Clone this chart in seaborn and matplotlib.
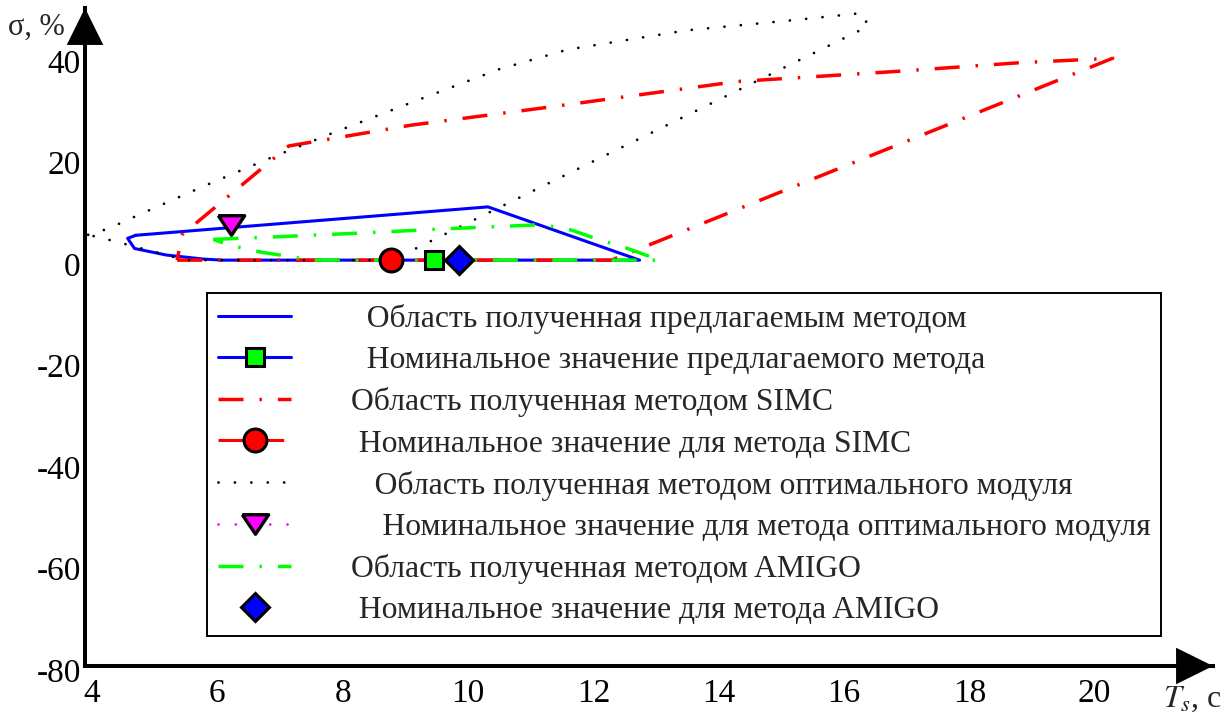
import matplotlib
matplotlib.use("Agg")
import matplotlib.pyplot as plt
import matplotlib.transforms as mtransforms
import seaborn as sns

# --------------------------------------------------------------------------------------------
# Regions of (Ts, sigma). Ts in s, sigma in %.
# --------------------------------------------------------------------------------------------

# Region of the proposed method (blue, solid)
prop_x = [4.81, 4.68, 4.79, 5.30, 5.90, 6.20, 12.85, 10.43, 4.81]
prop_y = [4.9, 4.3, 2.3, 1.0, 0.2, 0.0, 0.0, 10.5, 4.9]

# Region of SIMC (red, dash-dot)
simc_x = [5.47, 12.40, 20.40, 18.90, 16.95, 14.40, 11.37, 9.20, 7.25, 5.55, 5.47]
simc_y = [0.0, 0.0, 39.8, 38.9, 37.2, 35.2, 30.1, 26.6, 22.5, 5.0, 0.0]

# Region of the optimal modulus method (black, dotted)
om_x = [4.05, 4.37, 4.89, 5.90, 6.95, 7.98, 9.30, 10.60, 11.70, 13.60, 15.30, 16.40,
        16.50, 8.90, 5.60, 4.45, 4.05]
om_y = [5.0, 6.2, 9.1, 14.6, 20.1, 25.2, 31.5, 37.6, 41.5, 45.3, 47.3, 48.7,
        46.1, 0.0, 0.0, 3.8, 5.0]

# Region of AMIGO (green, dash-dot)
amigo_x = [6.05, 7.07, 8.67, 9.62, 10.55, 11.30, 11.77, 12.14, 12.66, 13.17, 7.60, 7.23, 6.84, 6.29, 6.05]
amigo_y = [4.1, 4.6, 5.5, 6.1, 6.6, 7.0, 5.9, 4.3, 2.3, 0.0, 0.0, 0.8, 1.5, 3.0, 4.1]

# Nominal values
nom_prop = (9.57, 0.0)
nom_simc = (8.89, 0.0)
nom_om = (6.33, 6.9)
nom_amigo = (9.97, 0.0)

labels = [
    "  Область полученная предлагаемым методом",
    "  Номинальное значение предлагаемого метода",
    "Область полученная методом SIMC",
    " Номинальное значение для метода SIMC",
    "   Область полученная методом оптимального модуля",
    "    Номинальное значение для метода оптимального модуля",
    "Область полученная методом AMIGO",
    " Номинальное значение для метода AMIGO",
]

sns.set_theme(style="white")
plt.rcParams['font.family'] = ['Liberation Serif', 'DejaVu Serif']
plt.rcParams['mathtext.fontset'] = 'stix'
plt.rcParams['axes.unicode_minus'] = False

W, H = 1228, 715
fig = plt.figure(figsize=(W / 100, H / 100), dpi=100)
ax = fig.add_axes([85 / W, 49 / H, (1213 - 85) / W, (666 - 8) / H])

handles = []

sns.lineplot(x=prop_x, y=prop_y, sort=False, estimator=None, color='#0000ff', lw=2.2, ax=ax)
handles.append(ax.lines[-1])
ax.plot([nom_prop[0]], [nom_prop[1]], color='#0000ff', lw=2.2, marker='s', ms=13.5,
        mfc='#00ff00', mec='black', mew=2.2, zorder=5)
handles.append(ax.lines[-1])

sns.lineplot(x=simc_x, y=simc_y, sort=False, estimator=None, color='#ff0000', lw=2.5,
             linestyle=(0, (7.2, 4.6, 0.7, 4.6)), ax=ax)
handles.append(ax.lines[-1])
ax.plot([nom_simc[0]], [nom_simc[1]], color='#ff0000', lw=2.2, linestyle=(0, (8.5, 4.5)),
        marker='o', ms=16.5, mfc='#ff0000', mec='black', mew=2.2, zorder=5)
handles.append(ax.lines[-1])

sns.lineplot(x=om_x, y=om_y, sort=False, estimator=None, color='black', lw=2.0,
             linestyle=(0, (0.01, 5.9)), dash_capstyle='round', ax=ax)
handles.append(ax.lines[-1])
tri = [(-1.35, 1), (1.35, 1), (0, -1), (-1.35, 1)]
ax.plot([nom_om[0]], [nom_om[1]], color='#ff00ff', lw=2.0, linestyle=(0, (0.01, 6.2)),
        dash_capstyle='round', marker=tri, ms=19, mfc='#ff00ff', mec='black', mew=2.4, zorder=5)
handles.append(ax.lines[-1])

sns.lineplot(x=amigo_x, y=amigo_y, sort=False, estimator=None, color='#00ff00', lw=2.5,
             linestyle=(0, (7.2, 4.6, 0.7, 4.6)), ax=ax)
handles.append(ax.lines[-1])
ax.plot([nom_amigo[0]], [nom_amigo[1]], linestyle='none', marker='D', ms=14,
        mfc='#0000ff', mec='black', mew=2.2, zorder=5)
handles.append(ax.lines[-1])

# axes look like a hand drawn Mathcad graph: two thick lines with arrows
ax.set_xlim(4, 22)
ax.set_ylim(-80, 49.7)
ax.set_xticks([4, 6, 8, 10, 12, 14, 16, 18, 20])
ax.set_yticks([-80, -60, -40, -20, 0, 20, 40])
ax.set_xlabel('')
ax.set_ylabel('')
for s in ['top', 'right']:
    ax.spines[s].set_visible(False)
for s in ['left', 'bottom']:
    ax.spines[s].set_linewidth(2.9)
    ax.spines[s].set_color('black')
ax.tick_params(axis='x', direction='in', length=8.5, width=1.1, labelsize=24, pad=9, colors='black')
ax.tick_params(axis='y', direction='in', length=7, width=1.1, labelsize=24, pad=3, colors='black')
dx = mtransforms.ScaledTranslation(7 / 100, 0, fig.dpi_scale_trans)
for t in ax.get_xticklabels():
    t.set_transform(t.get_transform() + dx)
dy = mtransforms.ScaledTranslation(0, -4 / 100, fig.dpi_scale_trans)
for t in ax.get_yticklabels():
    t.set_transform(t.get_transform() + dy)

arrow = dict(arrowstyle='-|>,head_length=0.95,head_width=0.47', color='black', lw=0,
             mutation_scale=28, shrinkA=0, shrinkB=0)
ax.annotate('', xy=(0, 1), xytext=(0, 0.9), xycoords='axes fraction', arrowprops=arrow,
            annotation_clip=False)
ax.annotate('', xy=(1, 0), xytext=(0.9, 0), xycoords='axes fraction', arrowprops=arrow,
            annotation_clip=False)

fig.text(8 / W, 1 - 35 / H, 'σ, %', fontsize=22, ha='left', va='baseline')
fig.text(1163 / W, 1 - 707 / H, '$T_s$, c', fontsize=23, ha='left', va='baseline')

leg = ax.legend(handles, labels, loc='upper left',
                bbox_to_anchor=(207 / W, 1 - 293 / H, (1161 - 207) / W, 0),
                bbox_transform=fig.transFigure, mode='expand', borderaxespad=0,
                frameon=True, fancybox=False, framealpha=1, edgecolor='black',
                fontsize=22.8, handlelength=2.3, handletextpad=1.9, labelspacing=0.38,
                borderpad=0.35, numpoints=1)
leg.get_frame().set_linewidth(1.4)

fig.savefig('out.png', dpi=100)
